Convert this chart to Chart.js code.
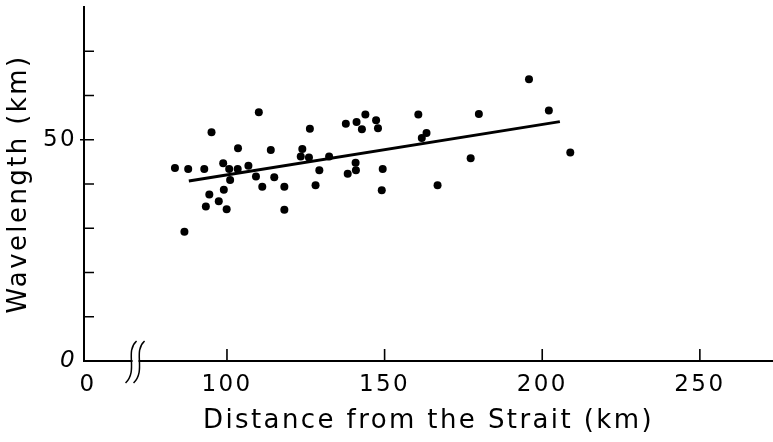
<!DOCTYPE html>
<html>
<head>
<meta charset="utf-8">
<script src="https://cdn.jsdelivr.net/npm/chart.js@4.4.1/dist/chart.umd.min.js"></script>
<style>
  html, body { margin: 0; padding: 0; background: #fff; }
  #wrap { width: 773px; height: 442px; }
</style>
</head>
<body>
<div id="wrap"><canvas id="chart"></canvas></div>
<script>
// distance from the strait (km) and wavelength (km)
const distance = [83.5, 87.7, 92.8, 95.1, 98.8, 100.7, 103.4, 106.8, 110.1, 103.5,
    113.9, 101.0, 109.2, 111.2, 115.0, 118.2, 99.0, 94.4, 97.4, 93.3,
    99.9, 118.2, 86.5, 126.3, 123.9, 123.4, 126.0, 132.4, 129.3, 128.1,
    137.7, 141.1, 142.8, 143.9, 147.3, 147.9, 160.7, 140.8, 140.9, 138.3,
    149.4, 149.1, 161.8, 163.3, 179.9, 195.8, 202.1, 177.3, 166.8, 208.9]
const wavelength = [43.6, 43.4, 43.4, 51.7, 44.7, 43.4, 43.4, 44.1, 56.2, 48.1,
    47.7, 40.9, 41.7, 39.4, 41.5, 39.4, 38.7, 37.6, 36.1, 34.9,
    34.3, 34.2, 29.2, 52.5, 47.9, 46.2, 46.0, 46.2, 43.1, 39.7,
    53.6, 54.0, 52.4, 55.7, 54.4, 52.6, 55.7, 44.8, 43.1, 42.3,
    43.4, 38.6, 50.4, 51.5, 55.8, 63.7, 56.6, 45.8, 39.7, 47.1]

// regression line end points
const fitX = [87.9, 205.6]
const fitY = [40.7, 54.1]

// x axis is broken: "0" is shown left of the break
const xTickAt = [55.9, 100, 150, 200, 250]
const xTickLabels = ['0', '100', '150', '200', '250']
const xBreakAt = 71.0
const yLabeled = [0, 50]

const FONT = "'DejaVu Sans', sans-serif"

const spacing = {
    id: 'spacing',
    beforeUpdate(chart) { chart.ctx.letterSpacing = '2.4px' },
    beforeDraw(chart) { chart.ctx.letterSpacing = '2.4px' }
}

// inward tick marks and the axis break
const axisMarks = {
    id: 'axisMarks',
    afterDraw(chart) {
        const { ctx, scales: { x, y } } = chart
        const x0 = x.left, y0 = y.bottom
        ctx.save()
        ctx.strokeStyle = '#000'
        ctx.lineWidth = 1.6
        ctx.beginPath()
        y.ticks.forEach(t => {
            if (t.value <= 0 || t.value >= 80) return
            const py = y.getPixelForValue(t.value)
            ctx.moveTo(x0 - (t.value === 50 ? 4 : 0), py)
            ctx.lineTo(x0 + 10, py)
        })
        xTickAt.slice(1).forEach(v => {
            const px = x.getPixelForValue(v)
            ctx.moveTo(px, y0)
            ctx.lineTo(px, y0 - 12)
        })
        ctx.stroke()

        const bx = x.getPixelForValue(xBreakAt)
        ctx.fillStyle = '#fff'
        ctx.fillRect(bx - 3, y0 - 3, 6, 6)
        ctx.lineWidth = 1.5
        ctx.beginPath()
        ;[-4, 4].forEach(d => {
            const cx = bx + d
            ctx.moveTo(cx - 6, y0 + 22)
            ctx.bezierCurveTo(cx + 7, y0 + 9, cx - 7, y0 - 9, cx + 5, y0 - 20)
        })
        ctx.stroke()
        ctx.restore()
    }
}

new Chart(document.getElementById('chart'), {
    type: 'scatter',
    data: {
        datasets: [{
            data: distance.map((d, i) => ({ x: d, y: wavelength[i] })),
            backgroundColor: '#000',
            borderColor: '#000',
            pointRadius: 4,
            pointHoverRadius: 4,
            borderWidth: 0
        }, {
            type: 'line',
            data: fitX.map((d, i) => ({ x: d, y: fitY[i] })),
            borderColor: '#000',
            borderWidth: 3,
            pointRadius: 0,
            fill: false
        }]
    },
    options: {
        responsive: true,
        maintainAspectRatio: false,
        animation: false,
        events: [],
        layout: { autoPadding: false, padding: { top: 7, right: 0, left: 0, bottom: 0 } },
        plugins: { legend: { display: false }, tooltip: { enabled: false } },
        scales: {
            x: {
                type: 'linear',
                min: 54.65,
                max: 273.2,
                afterBuildTicks(scale) {
                    scale.ticks = xTickAt.map(v => ({ value: v }))
                },
                afterFit(scale) {
                    scale.height = 81
                    scale.paddingLeft = 0
                    scale.paddingRight = 0
                },
                border: { color: '#000', width: 2 },
                grid: { drawOnChartArea: false, drawTicks: false },
                ticks: {
                    autoSkip: false,
                    maxRotation: 0,
                    padding: 10,
                    color: '#000',
                    font: { family: FONT, size: 23 },
                    callback: (v, i) => xTickLabels[i]
                },
                title: {
                    display: true,
                    text: 'Distance from the Strait (km)',
                    color: '#000',
                    font: { family: FONT, size: 26, lineHeight: 1.2 },
                    padding: { top: 0, bottom: 5 }
                }
            },
            y: {
                min: 0,
                max: 80,
                afterFit(scale) {
                    scale.width = 84
                    scale.paddingTop = 0
                    scale.paddingBottom = 0
                },
                border: { color: '#000', width: 2 },
                grid: { drawOnChartArea: false, drawTicks: false },
                ticks: {
                    stepSize: 10,
                    padding: 7,
                    color: '#000',
                    font: ctx => ({ family: FONT, size: 23, style: ctx.tick && ctx.tick.value === 0 ? 'italic' : 'normal' }),
                    callback: v => yLabeled.includes(v) ? String(v) : ''
                },
                title: {
                    display: true,
                    text: 'Wavelength (km)',
                    color: '#000',
                    font: { family: FONT, size: 26, lineHeight: 1.2 },
                    padding: { top: 4, bottom: 0 }
                }
            }
        }
    },
    plugins: [spacing, axisMarks]
});
</script>
</body>
</html>
